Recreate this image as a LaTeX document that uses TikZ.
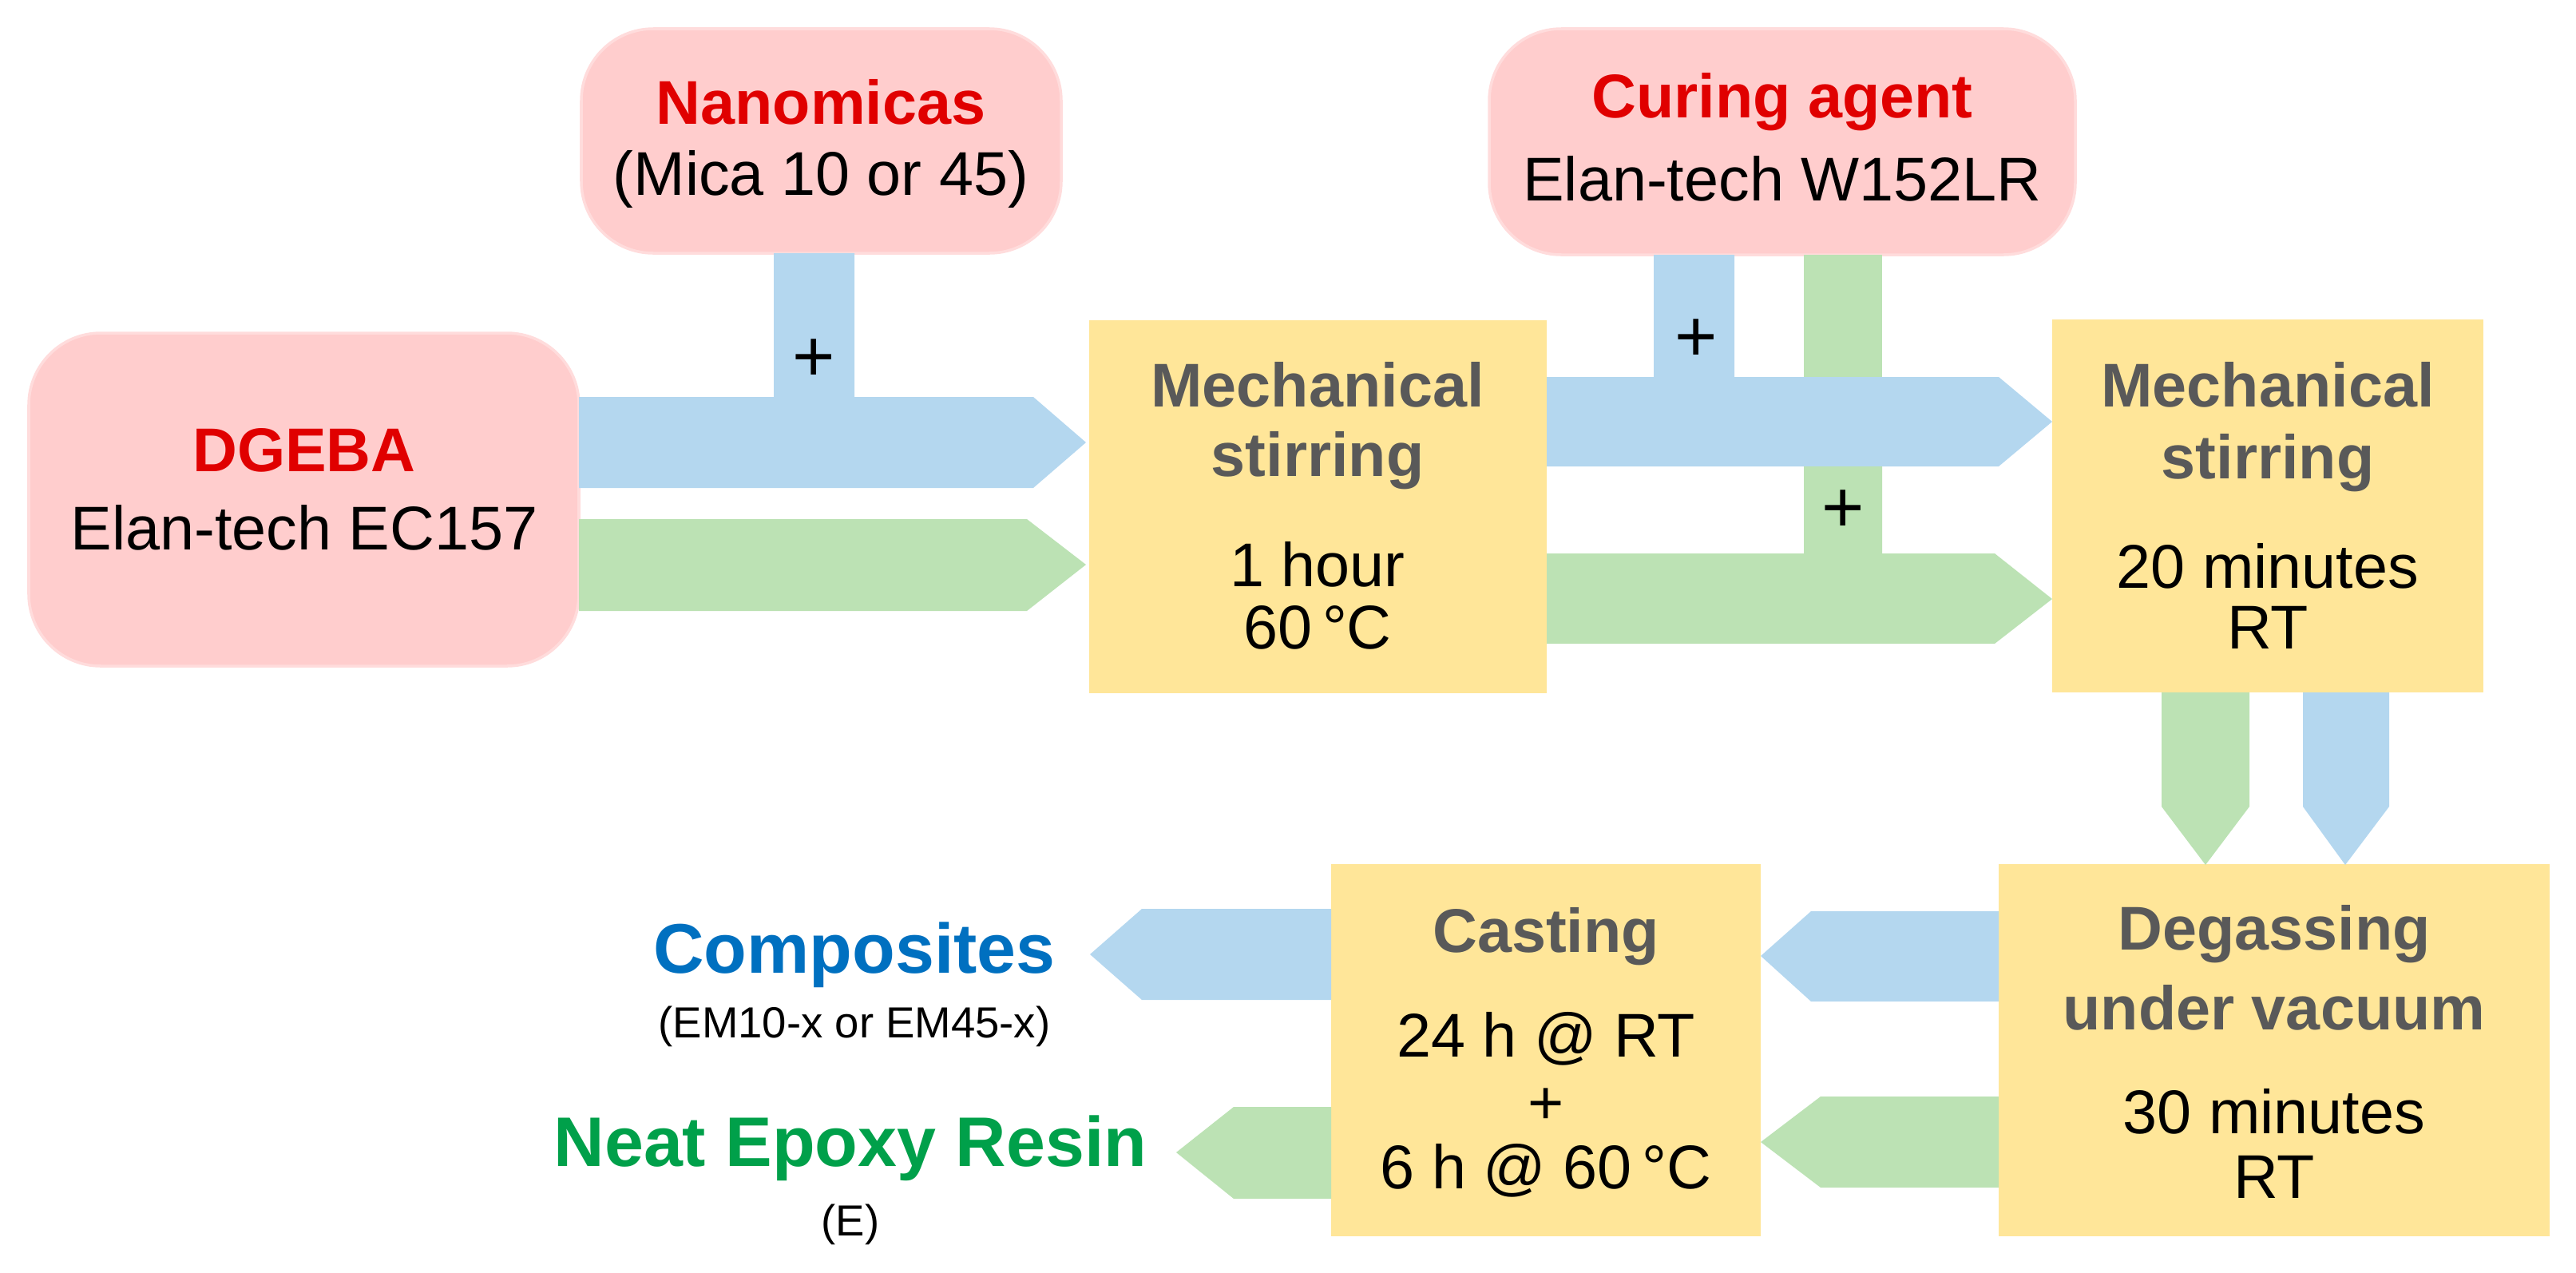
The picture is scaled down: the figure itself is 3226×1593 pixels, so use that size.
\documentclass[tikz,border=0pt]{standalone}
\usepackage{fontspec}
\setmainfont{Liberation Sans}
\definecolor{pinkf}{HTML}{FFCDCD}
\definecolor{yel}{HTML}{FFE699}
\definecolor{blu}{HTML}{B4D7EF}
\definecolor{grn}{HTML}{BCE2B4}
\definecolor{redt}{HTML}{E00000}
\definecolor{grayt}{HTML}{595959}
\definecolor{bluet}{HTML}{0070C0}
\definecolor{grnt}{HTML}{00A04A}
\begin{document}
\begin{tikzpicture}[x=0.01cm,y=-0.01cm,
  pbox/.style={fill=pinkf,draw=pinkf!70!white,line width=1pt,rounded corners=0.9cm},
  ybox/.style={fill=yel},
  t/.style={font=\fontsize{22}{26}\selectfont,inner sep=0pt},
  h/.style={font=\fontsize{22}{26}\selectfont\bfseries,inner sep=0pt},
  s/.style={font=\fontsize{15.5}{18}\selectfont,inner sep=0pt}]
\useasboundingbox (0,0) rectangle (3226,1593);
% boxes
\draw[pbox] (728,36) rectangle (1329,317);
\draw[pbox] (36,417) rectangle (725,834);
\draw[pbox] (1865,36) rectangle (2599,319);
\fill[ybox] (1364,401) rectangle (1937,868);
\fill[ybox] (2570,400) rectangle (3110,867);
\fill[ybox] (2503,1082) rectangle (3193,1548);
\fill[ybox] (1667,1082) rectangle (2205,1548);
% arrows
\fill[blu] (969,317) -- (1070,317) -- (1070,497) -- (1294,497) -- (1360,554) -- (1294,611) -- (725,611) -- (725,497) -- (969,497) -- cycle;
\fill[grn] (725,650) -- (1286,650) -- (1360,707) -- (1286,765) -- (725,765) -- cycle;
\fill[blu] (1937,472) -- (2071,472) -- (2071,319) -- (2172,319) -- (2172,472) -- (2503,472) -- (2570,528) -- (2503,584) -- (1937,584) -- cycle;
\fill[grn] (2259,319) -- (2357,319) -- (2357,472) -- (2259,472) -- cycle;
\fill[grn] (2259,584) -- (2357,584) -- (2357,693) -- (2498,693) -- (2570,750) -- (2498,806) -- (1937,806) -- (1937,693) -- (2259,693) -- cycle;
\fill[grn] (2707,867) -- (2817,867) -- (2817,1010) -- (2762,1083) -- (2707,1010) -- cycle;
\fill[blu] (2884,867) -- (2992,867) -- (2992,1010) -- (2937,1083) -- (2884,1010) -- cycle;
\fill[blu] (2503,1141) -- (2268,1141) -- (2205,1197) -- (2268,1254) -- (2503,1254) -- cycle;
\fill[grn] (2503,1373) -- (2280,1373) -- (2205,1430) -- (2280,1487) -- (2503,1487) -- cycle;
\fill[blu] (1667,1138) -- (1430,1138) -- (1365,1195) -- (1430,1252) -- (1667,1252) -- cycle;
\fill[grn] (1667,1386) -- (1545,1386) -- (1473,1443) -- (1545,1501) -- (1667,1501) -- cycle;
% plus signs
\node[t,font=\fontsize{26}{30}\selectfont] (p1) at (1019,451) {+};
\node[t,font=\fontsize{26}{30}\selectfont] (p2) at (2124,426) {+};
\node[t,font=\fontsize{26}{30}\selectfont] (p3) at (2308,640) {+};
% texts
\node[h,text=redt] (n1) at (1028,128) {Nanomicas};
\node[t] (n2) at (1028,224) {(Mica 10 or 45)};
\node[h,text=redt] (d1) at (381,564) {DGEBA};
\node[t] (d2) at (381,661) {Elan-tech EC157};
\node[h,text=redt] (c1) at (2232,128) {Curing agent};
\node[t] (c2) at (2232,224) {Elan-tech W152LR};
\node[h,text=grayt] (m1) at (1650,482) {Mechanical};
\node[h,text=grayt] (m2) at (1650,577) {stirring};
\node[t] (m3) at (1650,707) {1 hour};
\node[t] (m4) at (1650,786) {60\,°C};
\node[h,text=grayt] (q1) at (2840,482) {Mechanical};
\node[h,text=grayt] (q2) at (2840,580) {stirring};
\node[t] (q3) at (2840,709) {20 minutes};
\node[t] (q4) at (2840,786) {RT};
\node[h,text=grayt] (g1) at (2848,1170) {Degassing};
\node[h,text=grayt] (g2) at (2848,1262) {under vacuum};
\node[t] (g3) at (2848,1392) {30 minutes};
\node[t] (g4) at (2848,1474) {RT};
\node[h,text=grayt] (k1) at (1936,1173) {Casting};
\node[t] (k2) at (1936,1301) {24 h @ RT};
\node[t] (k3) at (1936,1385) {+};
\node[t] (k4) at (1936,1466) {6 h @ 60\,°C};
\node[h,text=bluet,font=\fontsize{25}{30}\selectfont\bfseries] (o1) at (1070,1196) {Composites};
\node[s] (o2) at (1070,1285) {(EM10-x or EM45-x)};
\node[h,text=grnt,font=\fontsize{25}{30}\selectfont\bfseries] (o3) at (1065,1438) {Neat Epoxy Resin};
\node[s] (o4) at (1065,1533) {(E)};
\end{tikzpicture}
\end{document}
